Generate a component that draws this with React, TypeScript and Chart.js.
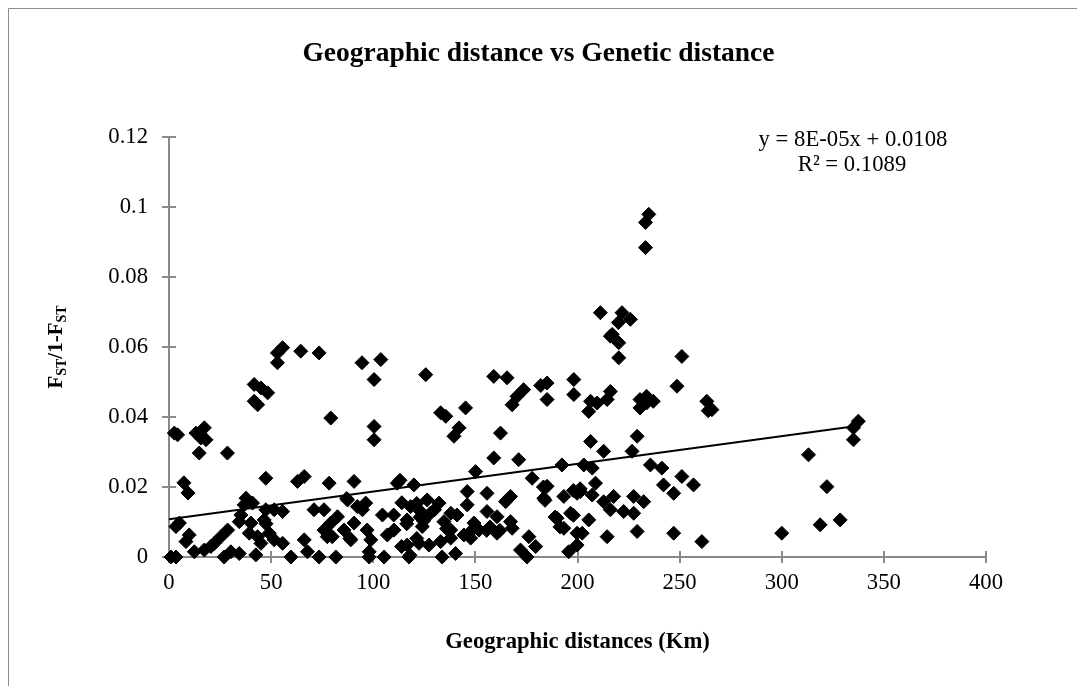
import { useEffect, useRef } from 'react';
import { Chart, registerables } from 'chart.js';

Chart.register(...registerables);

// Geographic distance (Km) of each population pair
const distanceKm = [
  55.6, 53.1, 64.5, 73.5, 53.1, 94.5, 41.7, 45, 48.3, 41.7,
  43.4, 79.2, 2.6, 4.2, 13.2, 17.3, 18.1, 15.6, 14.8, 28.6,
  47.4, 62.9, 66.2, 78.4, 90.6, 7.3, 9.3, 37.7, 40.9, 36.8,
  47.4, 51.5, 55.6, 71, 75.9, 87.4, 92.2, 35.2, 34.4, 40.1,
  46.6, 47.5, 5.1, 3.4, 9.9, 8.3, 28.7, 25.4, 22.2, 20.5,
  17.3, 12.4, 1, 3.4, 27, 30.3, 34.4, 42.5, 39.3, 43.4,
  45, 49.1, 51.5, 55.6, 59.7, 66.2, 67.8, 73.5, 81.7, 75.9,
  79.2, 82.5, 77.5, 79.9, 85.7, 89, 90.6, 94.7, 97, 98,
  87, 88.6,
  103.7, 100.4, 125.7, 159, 165.5, 173.6, 170.4, 168, 185.1, 182,
  185.1, 198.2, 198.2, 133, 135.5, 145.2, 142, 139.5, 162.3, 100.4,
  100.4, 159, 171.2, 192.4, 150.1, 177.8, 111.8, 119.9, 185.1, 146,
  155.7, 167.2, 183.5, 193.3, 126.4, 132.2, 118.3, 146, 164.8, 141,
  155.7, 196.6, 96.3, 104.5, 123.2, 116.6, 134.6, 149.3, 160.6, 167.2,
  190, 110.2, 124, 137.9, 144.4, 151.8, 160.6, 168, 193.3, 199.8,
  98.8, 106.9, 116.6, 122.4, 127.3, 133, 137.9, 147.7, 176.2, 98,
  105.3, 117.5, 133.7, 140.3, 172.1, 175.3, 179.5, 195.7, 199.8, 113.1,
  121.3, 123, 127.8, 165.3, 157.2, 116.4, 124.6, 135.9, 121.3, 147.4,
  155.5, 162, 113.9, 118, 130, 183.3, 184.1, 198, 201.3, 189,
  198, 191.4, 138, 110, 114,
  216.1, 220.2, 220.2, 251.1, 206.4, 216.1, 214.5, 205.5, 209.6, 230.6,
  233.8, 237.1, 230.6, 233.8, 248.7, 263.3, 265.8, 264, 206.4, 229.2,
  212.8, 226.7, 203.1, 207.2, 235.7, 241.3, 251.1, 208.8, 242.1, 256.8,
  199.8, 201.4, 207.2, 247.1, 212.8, 217.7, 227.5, 232.4, 216.1, 222.6,
  227.5, 205.5, 202.3, 214.5, 229.2, 247.1, 260.9, 300,
  337.5, 335.1, 335.1, 313.1, 322.1, 318.8, 328.6,
  234.9, 233.3, 233.3, 211.2, 221.8, 225.9, 217, 220,
];

// FST/(1-FST) of each population pair (same order)
const fstRatio = [
  0.0598, 0.0583, 0.0588, 0.0583, 0.0555, 0.0555, 0.0493, 0.0483, 0.0469, 0.0445,
  0.0435, 0.0397, 0.0354, 0.0349, 0.0354, 0.0369, 0.0335, 0.034, 0.0297, 0.0297,
  0.0225, 0.0216, 0.023, 0.0211, 0.0216, 0.0212, 0.0183, 0.0168, 0.0154, 0.0149,
  0.0135, 0.0135, 0.013, 0.0135, 0.0135, 0.0163, 0.0144, 0.012, 0.0101, 0.0097,
  0.0106, 0.0095, 0.0097, 0.0087, 0.0063, 0.0044, 0.0077, 0.0058, 0.0039, 0.003,
  0.002, 0.0015, 0, 0, 0, 0.0015, 0.001, 0.0006, 0.0068, 0.0058,
  0.0039, 0.0068, 0.0049, 0.0039, 0, 0.0049, 0.0015, 0, 0, 0.0077,
  0.0097, 0.0115, 0.0058, 0.0058, 0.0077, 0.0049, 0.0097, 0.0135, 0.0077, 0,
  0.0167, 0.0053,
  0.0564, 0.0507, 0.0521, 0.0516, 0.0512, 0.0478, 0.0459, 0.0435, 0.0497, 0.049,
  0.045, 0.0507, 0.0464, 0.0412, 0.0402, 0.0426, 0.0369, 0.0345, 0.0354, 0.0373,
  0.0335, 0.0283, 0.0278, 0.0263, 0.0244, 0.0225, 0.0211, 0.0206, 0.0202, 0.0187,
  0.0182, 0.0173, 0.0168, 0.0173, 0.0163, 0.0154, 0.0144, 0.0149, 0.0158, 0.012,
  0.013, 0.0125, 0.0154, 0.012, 0.013, 0.0106, 0.0101, 0.0097, 0.0115, 0.0101,
  0.0111, 0.0077, 0.0087, 0.0077, 0.0063, 0.0077, 0.0068, 0.0082, 0.0082, 0.0068,
  0.0049, 0.0063, 0.0034, 0.0039, 0.0034, 0.0044, 0.0054, 0.0054, 0.0058, 0.0015,
  0, 0, 0, 0.001, 0.002, 0, 0.003, 0.0015, 0.0034, 0.0219,
  0.0153, 0.0114, 0.0124, 0.0162, 0.0086, 0.0095, 0.0103, 0.0081, 0.0053, 0.0071,
  0.0076, 0.0076, 0.003, 0.0005, 0.0135, 0.02, 0.0162, 0.019, 0.0195, 0.0114,
  0.0119, 0.0086, 0.0125, 0.012, 0.0155,
  0.0631, 0.0612, 0.0569, 0.0573, 0.0445, 0.0473, 0.045, 0.0416, 0.044, 0.045,
  0.0459, 0.0445, 0.0426, 0.044, 0.0488, 0.0445, 0.0421, 0.0418, 0.033, 0.0345,
  0.0302, 0.0302, 0.0263, 0.0254, 0.0263, 0.0254, 0.023, 0.0211, 0.0206, 0.0206,
  0.0182, 0.0187, 0.0177, 0.0182, 0.0158, 0.0173, 0.0173, 0.0158, 0.0135, 0.013,
  0.0125, 0.0106, 0.0068, 0.0058, 0.0073, 0.0068, 0.0044, 0.0068,
  0.0388, 0.0369, 0.0335, 0.0292, 0.0201, 0.0092, 0.0106,
  0.0979, 0.0956, 0.0884, 0.0698, 0.0698, 0.0679, 0.0636, 0.067,
];

// Linear trend line end points (as drawn in the reference)
const trendX = [0, 337.5];
const trendY = [0.0108, 0.0375];

const xTickValues = [0, 50, 100, 150, 200, 250, 300, 350, 400];
const yTickLabels = ['0', '0.02', '0.04', '0.06', '0.08', '0.1', '0.12'];

const chartTitle = 'Geographic distance vs Genetic distance';
const xAxisTitle = 'Geographic distances (Km)';
const equationLines = ['y = 8E-05x + 0.0108', 'R² = 0.1089'];

const FONT = "'Liberation Serif', 'Times New Roman', serif";
const AXIS_COLOR = '#898989';

const decorPlugin = {
  id: 'decor',
  beforeDraw(chart: any) {
    const { ctx, width, height } = chart;
    ctx.save();
    ctx.fillStyle = '#ffffff';
    ctx.fillRect(0, 0, width, height);
    ctx.strokeStyle = '#8c8c8c';
    ctx.lineWidth = 1;
    ctx.beginPath();
    ctx.moveTo(8.5, height);
    ctx.lineTo(8.5, 8.5);
    ctx.lineTo(width, 8.5);
    ctx.stroke();
    ctx.restore();
  },
  beforeDatasetsDraw(chart: any) {
    const { ctx, chartArea, scales } = chart;
    const xs = scales.x;
    const ys = scales.y;
    ctx.save();
    ctx.strokeStyle = AXIS_COLOR;
    ctx.lineWidth = 2;
    ctx.beginPath();
    ys.ticks.forEach((t: any) => {
      const py = Math.round(ys.getPixelForValue(t.value));
      ctx.moveTo(chartArea.left - 7, py);
      ctx.lineTo(chartArea.left + 7, py);
    });
    xs.ticks.forEach((t: any) => {
      const px = Math.round(xs.getPixelForValue(t.value));
      ctx.moveTo(px, chartArea.bottom - 6);
      ctx.lineTo(px, chartArea.bottom + 6);
    });
    ctx.stroke();
    ctx.restore();
  },
  afterDraw(chart: any) {
    const { ctx, chartArea } = chart;
    ctx.save();
    // Y axis title with subscripts
    const segs = [
      { t: 'F', sub: false },
      { t: 'ST', sub: true },
      { t: '/1-F', sub: false },
      { t: 'ST', sub: true },
    ];
    const mainFont = `bold 21px ${FONT}`;
    const subFont = `bold 14px ${FONT}`;
    let total = 0;
    const widths = segs.map((s) => {
      ctx.font = s.sub ? subFont : mainFont;
      const w = ctx.measureText(s.t).width;
      total += w;
      return w;
    });
    const cx = 55;
    const cy = (chartArea.top + chartArea.bottom) / 2;
    ctx.translate(cx, cy);
    ctx.rotate(-Math.PI / 2);
    ctx.fillStyle = '#000';
    ctx.textBaseline = 'alphabetic';
    ctx.textAlign = 'left';
    let x = -total / 2;
    segs.forEach((s, i) => {
      ctx.font = s.sub ? subFont : mainFont;
      ctx.fillText(s.t, x, s.sub ? 11 : 7);
      x += widths[i];
    });
    ctx.setTransform(1, 0, 0, 1, 0, 0);
    // Trend equation
    ctx.font = `22.7px ${FONT}`;
    ctx.textAlign = 'center';
    ctx.textBaseline = 'middle';
    ctx.fillStyle = '#000';
    ctx.fillText(equationLines[0], chartArea.right - 133, chartArea.top + 3);
    ctx.fillText(equationLines[1], chartArea.right - 134, chartArea.top + 28);
    ctx.restore();
  },
};

export default function App() {
  const canvasRef = useRef<HTMLCanvasElement | null>(null);

  useEffect(() => {
    const canvas = canvasRef.current;
    if (!canvas) return;
    const points = distanceKm.map((d, i) => ({ x: d, y: fstRatio[i] }));
    const trend = trendX.map((d, i) => ({ x: d, y: trendY[i] }));

    const chart = new Chart(canvas, {
      type: 'scatter',
      data: {
        datasets: [
          {
            type: 'line',
            label: 'Linear trend',
            data: trend,
            borderColor: '#000',
            borderWidth: 2,
            pointRadius: 0,
            fill: false,
            clip: false,
          } as any,
          {
            type: 'scatter',
            label: 'FST/1-FST',
            data: points,
            pointStyle: 'rectRot',
            pointRadius: 7,
            backgroundColor: '#000',
            borderColor: '#000',
            borderWidth: 1,
            clip: false,
          } as any,
        ],
      },
      options: {
        animation: false,
        responsive: false,
        devicePixelRatio: 1,
        layout: { padding: { top: 10, left: 0, right: 0, bottom: 0 } },
        plugins: {
          legend: { display: false },
          tooltip: { enabled: false },
          title: {
            display: true,
            text: chartTitle,
            color: '#000',
            font: { family: FONT, size: 27.5, weight: 'bold' },
            padding: { top: 27, bottom: 67 },
          },
        },
        scales: {
          x: {
            type: 'linear',
            min: 0,
            max: 400,
            afterBuildTicks: (s: any) => {
              s.ticks = xTickValues.map((v) => ({ value: v }));
            },
            afterFit: (s: any) => {
              s.height = 129;
            },
            grid: { display: false, drawTicks: false },
            border: { display: true, color: AXIS_COLOR, width: 2 },
            ticks: {
              color: '#000',
              font: { family: FONT, size: 22.7 },
              padding: 12,
              maxRotation: 0,
              callback: (v: any) => String(v),
            },
            title: {
              display: true,
              text: xAxisTitle,
              color: '#000',
              font: { family: FONT, size: 22.7, weight: 'bold' },
              padding: { top: 0, bottom: 30 },
            },
          },
          y: {
            type: 'linear',
            min: 0,
            max: 0.12,
            afterBuildTicks: (s: any) => {
              s.ticks = yTickLabels.map((l) => ({ value: Number(l) }));
            },
            afterFit: (s: any) => {
              s.width = 169;
            },
            grid: { display: false, drawTicks: false },
            border: { display: true, color: AXIS_COLOR, width: 2 },
            ticks: {
              color: '#000',
              font: { family: FONT, size: 22.7 },
              padding: 21,
              callback: (_v: any, i: number) => yTickLabels[i],
            },
          },
          pad: {
            type: 'linear',
            position: 'right',
            display: true,
            grid: { display: false, drawTicks: false },
            border: { display: false },
            ticks: { display: false },
            afterFit: (s: any) => {
              s.width = 91;
            },
          },
        },
      } as any,
      plugins: [decorPlugin],
    });
    return () => chart.destroy();
  }, []);

  return (
    <div style={{ position: 'fixed', left: 0, top: 0, width: 1077, height: 686, background: '#fff' }}>
      <canvas ref={canvasRef} width={1077} height={686} style={{ display: 'block', width: 1077, height: 686 }} />
    </div>
  );
}
